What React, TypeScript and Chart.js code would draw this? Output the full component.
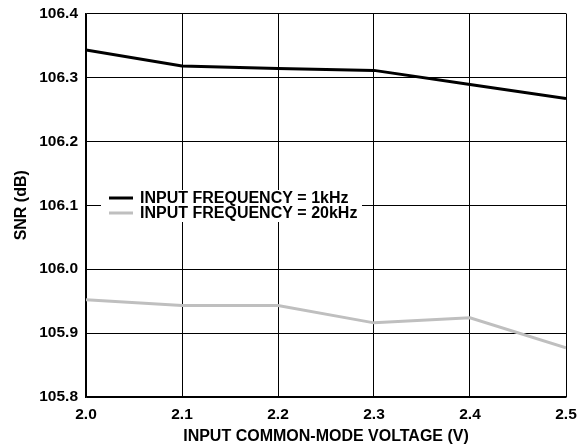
import React, { useEffect, useRef } from "react";
import { Chart, registerables } from "chart.js";

Chart.register(...registerables);

const xValues = [2.0, 2.1, 2.2, 2.3, 2.4, 2.5];
const snr1kHz = [106.343, 106.318, 106.314, 106.311, 106.289, 106.267];
const snr20kHz = [105.952, 105.943, 105.943, 105.916, 105.924, 105.877];
const seriesLabels = ["INPUT FREQUENCY = 1kHz", "INPUT FREQUENCY = 20kHz"];
const xTicks = [2.0, 2.1, 2.2, 2.3, 2.4, 2.5];
const yTicks = [105.8, 105.9, 106.0, 106.1, 106.2, 106.3, 106.4];
const xTitle = "INPUT COMMON-MODE VOLTAGE (V)";
const yTitle = "SNR (dB)";

const FONT = "'Liberation Sans', Arial, Helvetica, sans-serif";

const insideLegend = {
  id: "insideLegend",
  beforeDatasetsDraw(chart: any) {
    const { ctx, chartArea } = chart;
    const bx = chartArea.left + 15;
    const by = chartArea.top + 176.5;
    ctx.save();
    ctx.fillStyle = "#ffffff";
    ctx.fillRect(bx, by, 261, 32);
    ctx.font = `bold 16px ${FONT}`;
    ctx.textBaseline = "middle";
    ctx.textAlign = "left";
    chart.data.datasets.forEach((ds: any, i: number) => {
      const cy = by + 8 + i * 15;
      ctx.strokeStyle = ds.borderColor;
      ctx.lineWidth = 3;
      ctx.beginPath();
      ctx.moveTo(bx + 8, cy);
      ctx.lineTo(bx + 32, cy);
      ctx.stroke();
      ctx.fillStyle = "#000000";
      ctx.fillText(ds.label, bx + 39, cy + 1);
    });
    ctx.restore();
  },
};

export default function App() {
  const ref = useRef<HTMLCanvasElement>(null);

  useEffect(() => {
    if (!ref.current) return;
    const tickFont = { family: FONT, size: 15.5, weight: "bold" as const };
    const titleFont = { family: FONT, size: 16, weight: "bold" as const };
    const chart = new Chart(ref.current, {
      type: "line",
      data: {
        datasets: [
          {
            label: seriesLabels[0],
            data: xValues.map((x, i) => ({ x, y: snr1kHz[i] })),
            borderColor: "#000000",
            backgroundColor: "#000000",
            borderWidth: 3,
            pointRadius: 0,
            tension: 0,
          },
          {
            label: seriesLabels[1],
            data: xValues.map((x, i) => ({ x, y: snr20kHz[i] })),
            borderColor: "#bfbfbf",
            backgroundColor: "#bfbfbf",
            borderWidth: 3,
            pointRadius: 0,
            tension: 0,
          },
        ],
      },
      options: {
        animation: false,
        responsive: false,
        devicePixelRatio: 1,
        layout: { padding: { top: 13.5, right: 22, left: 0, bottom: 0 } },
        plugins: {
          legend: { display: false },
          tooltip: { enabled: false },
        },
        scales: {
          x: {
            type: "linear",
            min: 2.0,
            max: 2.5,
            afterBuildTicks: (scale: any) => {
              scale.ticks = xTicks.map((v) => ({ value: v }));
            },
            afterFit: (scale: any) => {
              scale.height = 51;
            },
            grid: { color: "#000000", lineWidth: 1, drawTicks: false },
            border: { color: "#000000", width: 1.5 },
            ticks: {
              color: "#000000",
              font: tickFont,
              padding: 8,
              maxRotation: 0,
              callback: (v: any) => Number(v).toFixed(1),
            },
            title: {
              display: true,
              text: xTitle,
              color: "#000000",
              font: titleFont,
              padding: { top: 0, bottom: 1.5 },
            },
          },
          y: {
            type: "linear",
            min: 105.8,
            max: 106.4,
            afterBuildTicks: (scale: any) => {
              scale.ticks = yTicks.map((v) => ({ value: v }));
            },
            afterFit: (scale: any) => {
              scale.width = 86;
              scale.paddingTop = 0;
            },
            grid: { color: "#000000", lineWidth: 1, drawTicks: false },
            border: { color: "#000000", width: 1.5 },
            ticks: {
              color: "#000000",
              font: tickFont,
              padding: 8,
              callback: (v: any) => Number(v).toFixed(1),
            },
            title: {
              display: true,
              text: yTitle,
              color: "#000000",
              font: titleFont,
              padding: { top: 11.5, bottom: 0 },
            },
          },
        },
      },
      plugins: [insideLegend],
    });
    return () => chart.destroy();
  }, []);

  return (
    <div style={{ position: "fixed", left: 0, top: 0, width: 588, height: 448, background: "#fff" }}>
      <canvas ref={ref} width={588} height={448} style={{ width: 588, height: 448, display: "block" }} />
    </div>
  );
}
